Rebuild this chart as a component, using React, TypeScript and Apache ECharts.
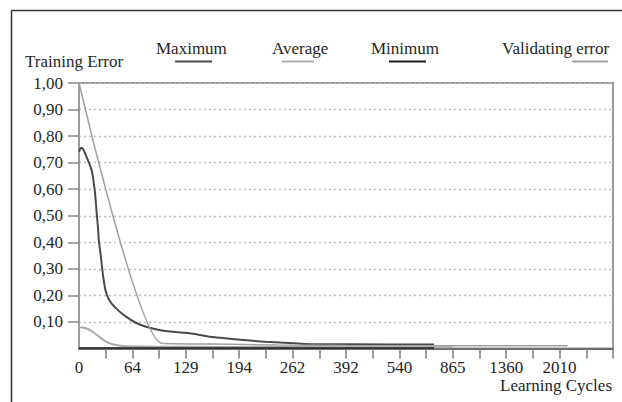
import React, { useEffect, useRef } from "react";
import * as echarts from "echarts";

// Learning-cycle tick labels (shown at every other tick position)
const cycleLabels = ["0", "64", "129", "194", "262", "392", "540", "865", "1360", "2010"];
const yTicks = [0.1, 0.2, 0.3, 0.4, 0.5, 0.6, 0.7, 0.8, 0.9, 1.0];
const xTicks = [1, 2, 3, 4, 5, 6, 7, 8, 9, 10, 11, 12, 13, 14, 15, 16, 17, 18, 19, 20];

const seriesNames = ["Maximum", "Average", "Minimum", "Validating error"];

// [axis position (tick units), training error]
const maximumData = [
  [0, 0.741], [0.07, 0.755], [0.15, 0.752], [0.29, 0.72], [0.41, 0.69], [0.49, 0.665],
  [0.6, 0.585], [0.67, 0.5], [0.71, 0.457], [0.74, 0.41], [0.82, 0.345], [0.89, 0.283],
  [0.99, 0.22], [1.13, 0.183], [1.39, 0.151], [1.76, 0.12], [2.13, 0.097], [2.51, 0.082],
  [3.01, 0.07], [3.63, 0.062], [4.0, 0.059], [4.53, 0.051], [5.0, 0.043], [6.15, 0.032],
  [7.0, 0.025], [8.03, 0.02], [8.6, 0.017], [10.3, 0.016], [13.3, 0.015],
];
const averageData = [
  [0, 0.08], [0.26, 0.076], [0.51, 0.063], [0.76, 0.044], [1.01, 0.026], [1.26, 0.016],
  [1.64, 0.009], [3, 0.007], [6, 0.006], [10, 0.005], [14, 0.005],
];
const minimumData = [
  [0, 0.002], [5, 0.002], [10, 0.002], [13.3, 0.002],
];
const validatingData = [
  [0, 1.0], [3.08, 0.02], [5, 0.017], [7.4, 0.013], [10, 0.011], [18.3, 0.01],
];

const seriesColors = ["#4a4a4a", "#a9a9a9", "#1e1e1e", "#a0a0a0"];
const seriesWidths = [2, 2, 1.5, 1.5];

const FONT = "'Liberation Serif', 'Times New Roman', serif";

export default function App() {
  const ref = useRef<HTMLDivElement>(null);
  useEffect(() => {
    if (!ref.current) return;
    const chart = echarts.init(ref.current, null, { renderer: "svg" });
    const allData = [maximumData, averageData, minimumData, validatingData];

    const legendPos = [
      { tx: 156, u1: 175, u2: 212 },
      { tx: 272, u1: 282, u2: 314 },
      { tx: 371, u1: 389, u2: 426 },
      { tx: 502, u1: 572, u2: 608 },
    ];

    const graphics: any[] = [
      { type: "line", shape: { x1: 11.5, y1: 10.5, x2: 622, y2: 10.5 }, style: { stroke: "#333", lineWidth: 1.5 } },
      { type: "line", shape: { x1: 11.5, y1: 10.5, x2: 11.5, y2: 402 }, style: { stroke: "#333", lineWidth: 1.5 } },
      {
        type: "text", left: 25, top: 53,
        style: { text: "Training Error", fill: "#262626", font: `17px ${FONT}` },
      },
      {
        type: "text", right: 10, top: 377,
        style: { text: "Learning Cycles", fill: "#262626", font: `17px ${FONT}` },
      },
    ];
    seriesNames.forEach((name, i) => {
      const p = legendPos[i];
      graphics.push({
        type: "text", left: p.tx, top: 40,
        style: { text: name, fill: "#262626", font: `17px ${FONT}` },
      });
      graphics.push({
        type: "line",
        shape: { x1: p.u1, y1: 61.5, x2: p.u2, y2: 61.5 },
        style: { stroke: seriesColors[i], lineWidth: 1.8 },
      });
    });

    chart.setOption({
      animation: false,
      backgroundColor: "#ffffff",
      grid: {
        left: 79, right: 9, top: 83, bottom: 53.5,
        show: true, borderColor: "#9a9a9a", borderWidth: 2, backgroundColor: "#ffffff",
      },
      xAxis: {
        type: "value", min: 0, max: 20, interval: 1,
        axisLine: { show: true, lineStyle: { color: "#6e6e6e", width: 2 } },
        axisTick: { show: true, customValues: xTicks, length: 10, lineStyle: { color: "#7a7a7a", width: 1.5 } },
        axisLabel: {
          margin: 10, fontSize: 17, fontFamily: FONT, color: "#262626",
          showMinLabel: true, showMaxLabel: true,
          formatter: (v: number) => {
            const r = Math.round(v);
            if (r % 2 !== 0) return "";
            const idx = r / 2;
            return idx < cycleLabels.length ? cycleLabels[idx] : "";
          },
        },
        splitLine: { show: false },
      },
      yAxis: {
        type: "value", min: 0, max: 1, interval: 0.1,
        axisLine: { show: true, lineStyle: { color: "#9a9a9a", width: 2 } },
        axisTick: { show: true, customValues: yTicks, length: 11, lineStyle: { color: "#8a8a8a", width: 1.5 } },
        axisLabel: {
          customValues: yTicks,
          margin: 16, fontSize: 17, fontFamily: FONT, color: "#262626",
          formatter: (v: number) => v.toFixed(2).replace(".", ","),
        },
        splitLine: { show: true, lineStyle: { color: "#bdbdbd", width: 1.3, type: [2, 3] } },
      },
      series: seriesNames.map((name, i) => ({
        name,
        type: "line",
        data: allData[i],
        showSymbol: false,
        smooth: 0.2,
        lineStyle: { color: seriesColors[i], width: seriesWidths[i] },
        z: i === 3 ? 3 : 2,
      })),
      graphic: graphics,
    });
    return () => chart.dispose();
  }, []);
  return (
    <div
      ref={ref}
      style={{ position: "absolute", left: 0, top: 0, width: 622, height: 402 }}
    />
  );
}
